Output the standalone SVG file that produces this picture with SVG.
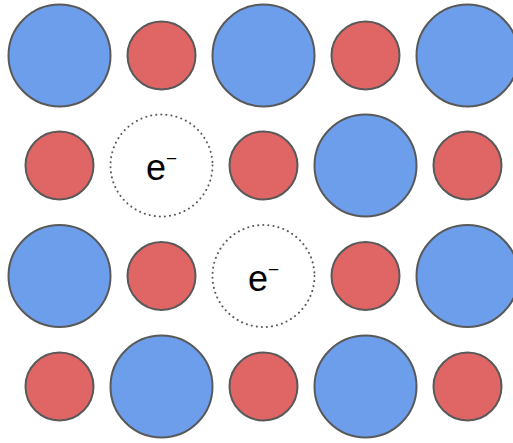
<svg xmlns="http://www.w3.org/2000/svg" width="513" height="443" viewBox="0 0 513 443">
<style>
.b{fill:#6d9eeb;stroke:#595959;stroke-width:2}
.r{fill:#e06666;stroke:#595959;stroke-width:2}
.e{fill:none;stroke:#595959;stroke-width:2;stroke-dasharray:0.1,5;stroke-linecap:round}
.t{font-family:"Liberation Sans",Arial,sans-serif;font-size:36px;fill:#000}
.m{font-size:19px}
</style>
<rect width="513" height="443" fill="#fff"/>
<g id="n11"><circle class="b" cx="59.5" cy="55.5" r="51"/></g>
<g id="n12"><circle class="r" cx="161.5" cy="55.5" r="34"/></g>
<g id="n13"><circle class="b" cx="263.5" cy="55.5" r="51"/></g>
<g id="n14"><circle class="r" cx="365.5" cy="55.5" r="34"/></g>
<g id="n15"><circle class="b" cx="467.5" cy="55.5" r="51"/></g>
<g id="n21"><circle class="r" cx="59.5" cy="165.5" r="34"/></g>
<g id="n22"><circle class="e" cx="161.5" cy="165.5" r="51"/><text class="t" x="146" y="180">e<tspan class="m" dy="-15">−</tspan></text></g>
<g id="n23"><circle class="r" cx="263.5" cy="165.5" r="34"/></g>
<g id="n24"><circle class="b" cx="365.5" cy="165.5" r="51"/></g>
<g id="n25"><circle class="r" cx="467.5" cy="165.5" r="34"/></g>
<g id="n31"><circle class="b" cx="59.5" cy="276" r="51"/></g>
<g id="n32"><circle class="r" cx="161.5" cy="276" r="34"/></g>
<g id="n33"><circle class="e" cx="263.5" cy="276" r="51"/><text class="t" x="248" y="290.5">e<tspan class="m" dy="-15">−</tspan></text></g>
<g id="n34"><circle class="r" cx="365.5" cy="276" r="34"/></g>
<g id="n35"><circle class="b" cx="467.5" cy="276" r="51"/></g>
<g id="n41"><circle class="r" cx="59.5" cy="386.5" r="34"/></g>
<g id="n42"><circle class="b" cx="161.5" cy="386.5" r="51"/></g>
<g id="n43"><circle class="r" cx="263.5" cy="386.5" r="34"/></g>
<g id="n44"><circle class="b" cx="365.5" cy="386.5" r="51"/></g>
<g id="n45"><circle class="r" cx="467.5" cy="386.5" r="34"/></g>
<g id="connectors"/>
</svg>
